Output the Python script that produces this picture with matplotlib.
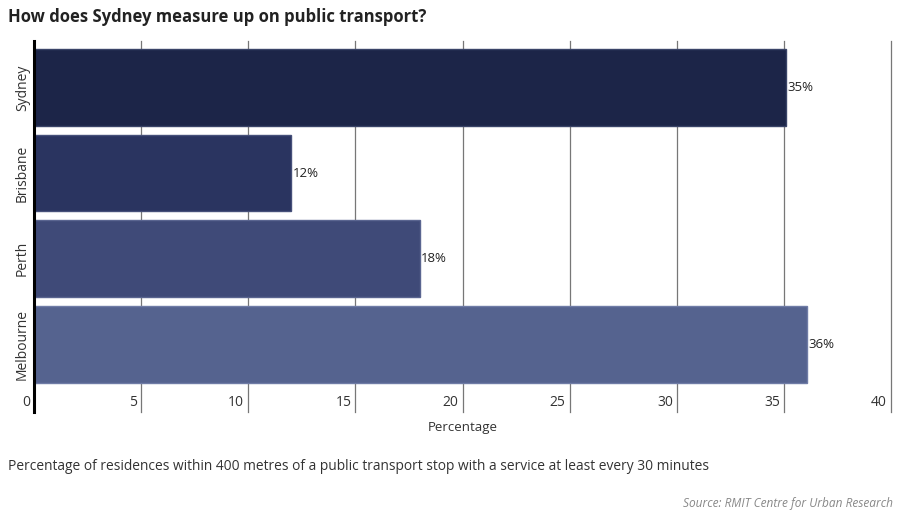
import matplotlib
matplotlib.use("Agg")
import matplotlib.pyplot as plt
import matplotlib.transforms as mtransforms

plt.rcParams['font.family'] = ['Open Sans', 'DejaVu Sans']

cities = ["Sydney", "Brisbane", "Perth", "Melbourne"]
values = [35.1, 12.0, 18.0, 36.1]
labels = ["35%", "12%", "18%", "36%"]
colors = ["#1c2548", "#2a3460", "#3f4a78", "#55638f"]
edges = ["#3a4468", "#46507a", "#5a6590", "#6f7ca6"]
xticks = [0, 5, 10, 15, 20, 25, 30, 35, 40]

W, H = 899, 513
fig = plt.figure(figsize=(W / 100, H / 100), dpi=100)
ax = fig.add_axes([34 / W, 1 - 412 / H, (891 - 34) / W, (412 - 41) / H])

ypos = list(range(len(cities)))
ax.barh(ypos, values, height=0.9, color=colors, edgecolor=edges, linewidth=1, zorder=2)
ax.set_xlim(0, 40)
ax.set_ylim(3.795, -0.544)

for x in xticks[1:]:
    ax.axvline(x, color="#777777", linewidth=0.9, zorder=1, clip_on=False)

for s in ["top", "right", "bottom"]:
    ax.spines[s].set_visible(False)
ax.spines["left"].set_linewidth(2.2)
ax.spines["left"].set_color("black")
ax.spines["left"].set_zorder(3)

ax.set_xticks([])
ax.set_yticks(ypos)
ax.set_yticklabels(cities, rotation=90, va="center", fontsize=10, color="#333333")
ax.tick_params(axis="y", length=0, pad=3)

trans = mtransforms.blended_transform_factory(ax.transData, ax.transAxes)
off = mtransforms.offset_copy(trans, fig=fig, x=-4, y=0, units="dots")
for x in xticks:
    ax.text(x, 0.006, str(x), transform=off, ha="right", va="bottom",
            fontsize=10, color="#333333")

for y, v, lab in zip(ypos, values, labels):
    ax.text(v + 0.06, y, lab, ha="left", va="center", fontsize=9.5, color="#222222")

fig.text(463 / W, 1 - 427 / H, "Percentage", ha="center", va="center",
         fontsize=9.5, color="#333333")
fig.text(8 / W, 1 - 17 / H, "How does Sydney measure up on public transport?",
         ha="left", va="center", fontsize=12, fontweight="bold", color="#222222")
fig.text(8 / W, 1 - 466 / H,
         "Percentage of residences within 400 metres of a public transport stop with a service at least every 30 minutes",
         ha="left", va="center", fontsize=9.9, color="#333333")
fig.text(893 / W, 1 - 503 / H, "Source: RMIT Centre for Urban Research",
         ha="right", va="center", fontsize=8.6, style="italic", color="#888888")

fig.savefig("out.png", dpi=100)
